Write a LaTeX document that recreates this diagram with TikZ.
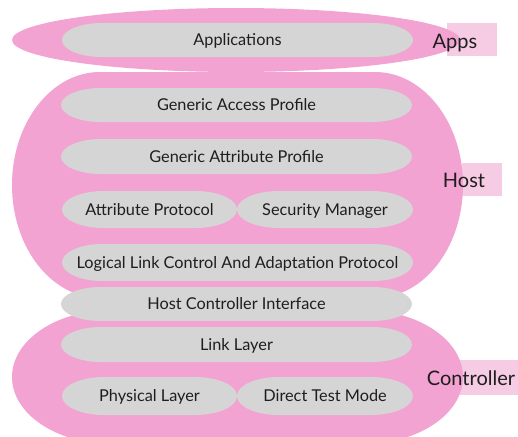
\documentclass[tikz,border=0pt]{standalone}
\usepackage{fontspec}
\setmainfont{Lato}
\definecolor{pinkbg}{RGB}{242,163,210}
\definecolor{pillgray}{RGB}{213,213,213}
\definecolor{lightpink}{RGB}{245,204,228}
\definecolor{txt}{RGB}{30,30,30}
\tikzset{
  pillfill/.style={fill=pillgray,draw=none},
  grpfill/.style={fill=pinkbg,draw=none},
  labbox/.style={fill=lightpink,draw=none},
  pilltext/.style={font=\fontsize{16.3}{18}\selectfont,text=txt,inner sep=0pt,text height=11.7pt,text depth=0pt},
  grptext/.style={font=\fontsize{20}{22}\selectfont,text=txt,inner sep=0pt,text height=14.4pt,text depth=0pt},
}
\newcommand\mypill[6]{%
  \path[pillfill] ({#1+#5},#2) arc[start angle=270,end angle=90,x radius=#5,y radius={(#4-#2)/2}]
    -- ({#3-#5},#4) arc[start angle=90,end angle=-90,x radius=#5,y radius={(#4-#2)/2}] -- cycle;
  \node[pilltext] (#6) at ({(#1+#3)/2},{(#2+#4)/2}) {};
}
\begin{document}
\begin{tikzpicture}[x=1pt,y=-1pt]
\useasboundingbox (0,0) rectangle (518,436);
% label boxes
\path[labbox] (447,23) rectangle (497,56);
\path[labbox] (462,163) rectangle (502,196);
\path[labbox] (460,360) rectangle (518,395);
% group shapes
\begin{scope}
\clip (0,0) rectangle (518,436);
\path[grpfill] (112,310) -- (363,310) arc[start angle=270,end angle=450,x radius=100,y radius=67]
  -- (112,444) arc[start angle=90,end angle=270,x radius=100,y radius=67] -- cycle;
\end{scope}
\path[grpfill] (100,72) -- (375,72) arc[start angle=270,end angle=450,x radius=88,y radius=113]
  -- (100,298) arc[start angle=90,end angle=270,x radius=88,y radius=113] -- cycle;
\path[grpfill] (236,40) ellipse[x radius=224,y radius=32];
% pills
\mypill{62}{23}{413}{57}{40}{app}
\mypill{61}{88}{412}{122}{40}{gap}
\mypill{61}{139}{412}{174}{40}{gatt}
\mypill{62}{191}{237}{228}{42}{att}
\mypill{237}{191}{413}{228}{42}{sm}
\mypill{62}{244}{413}{281}{40}{l2cap}
\mypill{61}{287}{412}{321}{40}{hci}
\mypill{61}{327}{412}{362}{40}{ll}
\mypill{62}{377}{237}{415}{42}{phy}
\mypill{237}{377}{413}{415}{42}{dtm}
% texts
\node[pilltext] at (app) {Applications};
\node[pilltext] at (gap) {Generic Access Profile};
\node[pilltext] at (gatt) {Generic Attribute Profile};
\node[pilltext] at (att) {Attribute Protocol};
\node[pilltext] at (sm) {Security Manager};
\node[pilltext] at (l2cap) {Logical Link Control And Adaptation Protocol};
\node[pilltext] at (hci) {Host Controller Interface};
\node[pilltext] at (ll) {Link Layer};
\node[pilltext] at (phy) {Physical Layer};
\node[pilltext] at (dtm) {Direct Test Mode};
\node[grptext] (apps) at (455,41) {Apps};
\node[grptext] (host) at (464,180) {Host};
\node[grptext] (ctrl) at (471,378) {Controller};
\end{tikzpicture}
\end{document}
